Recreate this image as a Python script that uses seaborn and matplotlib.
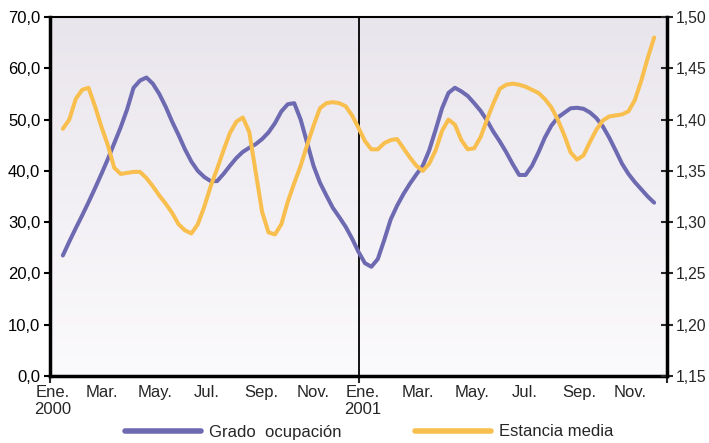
import numpy as np
import pandas as pd
import matplotlib
matplotlib.use("Agg")
import matplotlib.pyplot as plt
import seaborn as sns
from matplotlib.colors import LinearSegmentedColormap
from matplotlib.lines import Line2D
from matplotlib.ticker import FuncFormatter, FixedLocator

# ---- data (quarter-month steps, Jan 2000 - Dec 2001) ----
months = np.arange(2, 95) / 4.0

grado = [23.5, 26.2, 28.8, 31.3, 33.9, 36.6, 39.4, 42.3, 45.4, 48.5,
         52.0, 56.2, 57.6, 58.2, 57.0, 55.0, 52.5, 49.6, 47.0, 44.2,
         41.8, 40.0, 38.8, 38.0, 38.0, 39.4, 41.0, 42.5, 43.7, 44.5,
         45.2, 46.2, 47.5, 49.3, 51.6, 53.0, 53.2, 50.0, 45.5, 41.0,
         37.7, 35.2, 32.8, 31.0, 29.1, 26.8, 24.2, 22.0, 21.3, 22.8,
         26.5, 30.5, 33.2, 35.5, 37.5, 39.3, 41.0, 44.0, 48.0, 52.2,
         55.2, 56.2, 55.5, 54.6, 53.2, 51.7, 49.8, 47.6, 45.7, 43.6,
         41.3, 39.2, 39.2, 41.0, 43.6, 46.5, 48.8, 50.4, 51.3, 52.2,
         52.3, 52.1, 51.4, 50.3, 48.7, 46.5, 44.0, 41.4, 39.4, 37.8,
         36.4, 35.0, 33.8]

estancia = [1.391, 1.400, 1.420, 1.429, 1.431, 1.413, 1.393, 1.375, 1.353, 1.347,
            1.348, 1.349, 1.349, 1.343, 1.335, 1.326, 1.318, 1.309, 1.298, 1.292,
            1.289, 1.298, 1.315, 1.335, 1.352, 1.370, 1.387, 1.398, 1.402, 1.388,
            1.349, 1.310, 1.290, 1.288, 1.298, 1.320, 1.338, 1.355, 1.375, 1.394,
            1.411, 1.416, 1.417, 1.416, 1.413, 1.404, 1.392, 1.379, 1.371, 1.371,
            1.377, 1.380, 1.381, 1.372, 1.363, 1.355, 1.350, 1.357, 1.370, 1.389,
            1.400, 1.395, 1.380, 1.371, 1.372, 1.383, 1.400, 1.416, 1.430, 1.434,
            1.435, 1.434, 1.432, 1.429, 1.426, 1.420, 1.412, 1.400, 1.385, 1.368,
            1.361, 1.365, 1.378, 1.390, 1.399, 1.403, 1.404, 1.405, 1.408, 1.419,
            1.438, 1.460, 1.480]

month_labels = ["Ene.\n2000", "Mar.", "May.", "Jul.", "Sep.", "Nov.",
                "Ene.\n2001", "Mar.", "May.", "Jul.", "Sep.", "Nov."]
label_pos = [0.1, 2.0, 4.1, 6.1, 8.2, 10.25, 12.15, 14.3, 16.4, 18.45, 20.6, 22.55]

left_ticks = [0, 10, 20, 30, 40, 50, 60, 70]
right_ticks = [1.15, 1.20, 1.25, 1.30, 1.35, 1.40, 1.45, 1.50]

series_names = ["Grado  ocupación", "Estancia media"]
purple = "#6E6AB2"
orange = "#F8BF4F"

df = pd.DataFrame({"mes": months, "grado": grado, "estancia": estancia})

# ---- style ----
sns.set_style("white")
plt.rcParams["font.family"] = ["Liberation Sans", "DejaVu Sans"]

fig = plt.figure(figsize=(7.09, 4.43), dpi=100)
ax = fig.add_axes([50 / 709, 1 - 376 / 443, 617 / 709, 359 / 443])

# gradient background
cmap = LinearSegmentedColormap.from_list("bg", ["#FBFAFC", "#E9E5EC"])
ax.imshow(np.linspace(0, 1, 256).reshape(-1, 1), extent=[0, 1, 0, 1],
          transform=ax.transAxes, cmap=cmap, aspect="auto", origin="lower",
          zorder=0)

sns.lineplot(data=df, x="mes", y="grado", ax=ax, color=purple, lw=2.9,
             legend=False, zorder=3)
ax.axvline(12, color="black", lw=1.3, zorder=2)

ax2 = ax.twinx()
sns.lineplot(data=df, x="mes", y="estancia", ax=ax2, color=orange, lw=2.9,
             legend=False, zorder=3)

ax.set_xlim(0, 24)
ax.set_ylim(0, 70)
ax2.set_ylim(1.15, 1.50)

comma = lambda fmt: FuncFormatter(lambda v, p: fmt.format(v).replace(".", ","))
ax.yaxis.set_major_locator(FixedLocator(left_ticks))
ax.yaxis.set_major_formatter(comma("{:.1f}"))
ax2.yaxis.set_major_locator(FixedLocator(right_ticks))
ax2.yaxis.set_major_formatter(comma("{:.2f}"))

ax.xaxis.set_major_locator(FixedLocator([0, 12, 24]))
ax.xaxis.set_major_formatter(FuncFormatter(lambda v, p: ""))
ax.xaxis.set_minor_locator(FixedLocator(label_pos))
ax.set_xticklabels(month_labels, minor=True)

ax.tick_params(axis="y", direction="out", length=4, width=1.5, labelsize=12,
               pad=3, colors="black", left=True)
ax.tick_params(axis="x", which="major", direction="out", length=5, width=1.5,
               bottom=True)
ax.tick_params(axis="x", which="minor", length=0, labelsize=12, pad=6.5)
ax2.tick_params(axis="y", direction="inout", length=8, width=1.5, labelsize=11.3,
                pad=2.5, right=True)

ax.set_xlabel("")
ax.set_ylabel("")
ax2.set_ylabel("")

for s, lw in [("left", 2.5), ("bottom", 2.5), ("top", 1.5)]:
    ax.spines[s].set_linewidth(lw)
    ax.spines[s].set_color("black")
ax.spines["right"].set_visible(False)
for s in ["left", "bottom", "top"]:
    ax2.spines[s].set_visible(False)
ax2.spines["right"].set_linewidth(2.5)
ax2.spines["right"].set_color("black")

handles = [Line2D([], [], color=purple, lw=4),
           Line2D([], [], color=orange, lw=4)]
fig.legend(handles, series_names, loc="center",
           bbox_to_anchor=(369 / 709, 1 - 432 / 443), ncol=2, frameon=False,
           fontsize=12, handlelength=4.6, handletextpad=0.45,
           columnspacing=4.4)

fig.savefig("out.png", dpi=100)
